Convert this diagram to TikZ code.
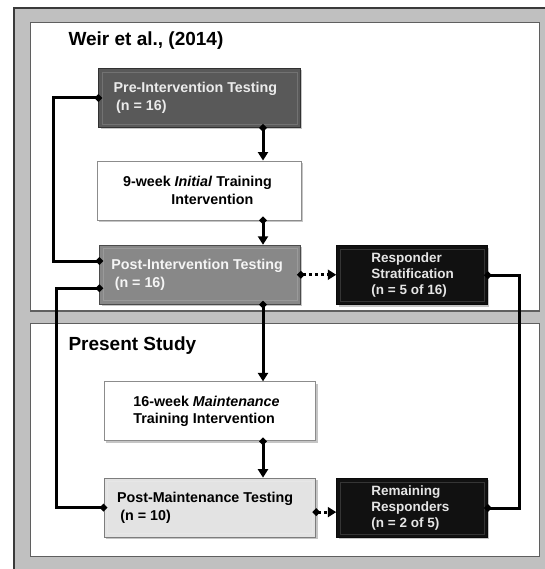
\documentclass[tikz,border=0pt]{standalone}
\usepackage{fontspec}
\setmainfont{Liberation Sans}
\usetikzlibrary{arrows.meta,shadows}
\definecolor{preclr}{HTML}{595959}
\definecolor{postclr}{HTML}{888888}
\definecolor{maintclr}{HTML}{E3E3E3}
\definecolor{respclr}{HTML}{111111}
\definecolor{framegray}{HTML}{C0C0C0}
\definecolor{framedark}{HTML}{3A3A3A}
\definecolor{panelline}{HTML}{5F5F5F}
\begin{document}
\begin{tikzpicture}[x=1pt,y=-1pt,
  box/.style={draw=#1!55!black, line width=0.9pt, fill=#1, minimum height=59pt, inner sep=0pt,
    drop shadow={shadow xshift=1.8pt, shadow yshift=-1.8pt, opacity=0.45},
    path picture={\draw[#1!85!white, line width=0.6pt]
      ([shift={(3.5pt,-3.5pt)}]path picture bounding box.north west) rectangle
      ([shift={(-3.5pt,3.5pt)}]path picture bounding box.south east);}},
  boxtxt/.style={font=\fontsize{14.3}{17.7}\selectfont\bfseries, align=left, inner sep=0pt, anchor=west},
  resptxt/.style={boxtxt, font=\fontsize{13.5}{15.8}\selectfont\bfseries, text=white!90!black},
  titletxt/.style={font=\fontsize{19}{23}\selectfont\bfseries, anchor=base west, inner sep=0pt},
  conn/.style={line width=3pt, {Diamond[length=8pt,width=8pt]}-{Triangle[length=8.5pt,width=10pt]}, shorten <=-4pt},
  loopconn/.style={line width=3pt, {Diamond[length=8pt,width=8pt]}-{Diamond[length=8pt,width=8pt]}, shorten <=-4pt, shorten >=-4pt},
  dotconn/.style={conn, dash pattern=on 3pt off 3pt}]
  \pgfmathsetmacro{\sx}{263}
  \pgfmathsetmacro{\la}{53.8}
  \pgfmathsetmacro{\lb}{56.6}
  \pgfmathsetmacro{\ra}{519.4}
  \useasboundingbox (0,0) rectangle (544,569);
  \fill[white] (0,0) rectangle (544,569);
  \fill[framegray] (13.9,8) rectangle (548,573);
  \draw[framedark, line width=1.2pt] (13.9,573) -- (13.9,8) -- (548,8);
  \draw[panelline, line width=1.4pt, fill=white] (30.5,22.7) rectangle (539.6,311);
  \draw[panelline, line width=1.4pt, fill=white] (30.5,323.3) rectangle (539.6,556.7);

  \node[titletxt] (weir) at (68.3,46) {Weir et al., (2014)};
  \node[titletxt] (present) at (68.3,350.7) {Present Study};

  \node[box=preclr, minimum width=201.6pt] (pre) at (199.7,98) {};
  \node[boxtxt, text=white!92!black] (pretxt) at ([xshift=15pt]pre.west) {Pre-Intervention Testing\\\hspace*{2.5pt}(n = 16)};

  \node[box=white, minimum width=204pt] (nine) at (199.5,190.5) {};
  \node[boxtxt] (ninetxt) at ([xshift=25.8pt]nine.west) {9-week \textit{Initial} Training\\\hspace*{48.4pt}Intervention};

  \node[box=postclr, minimum width=200.6pt] (postint) at (200.2,274.75) {};
  \node[boxtxt, text=white!96!black] (postinttxt) at ([xshift=11.8pt]postint.west) {Post-Intervention Testing\\\hspace*{3.3pt}(n = 16)};

  \node[box=respclr, minimum width=150.8pt] (resp) at (412.1,275.25) {};
  \node[resptxt] (resptxt) at ([xshift=35pt]resp.west) {Responder\\Stratification\\(n = 5 of 16)};

  \node[box=white, minimum width=211.8pt] (sixteen) at (209.9,411.35) {};
  \node[boxtxt] (sixteentxt) at ([xshift=29.6pt]sixteen.west) {16-week \textit{Maintenance}\\Training Intervention};

  \node[box=maintclr, minimum width=211.8pt] (postmaint) at (209.9,507.6) {};
  \node[boxtxt] (postmainttxt) at ([xshift=13.3pt]postmaint.west) {Post-Maintenance Testing\\\hspace*{3.4pt}(n = 10)};

  \node[box=respclr, minimum width=150.8pt] (remain) at (412.1,508) {};
  \node[resptxt] (remaintxt) at ([xshift=35pt]remain.west) {Remaining\\Responders\\(n = 2 of 5)};

  \coordinate (spine) at (\sx,0);
  \coordinate (lloop) at (\la,0);
  \coordinate (lloopb) at (\lb,0);
  \coordinate (rloop) at (\ra,0);
  \coordinate (postup) at ([yshift=13.75pt]postint.west);
  \coordinate (postlo) at ([yshift=-13.5pt]postint.west);

  \draw[conn] (pre.south -| spine) -- (nine.north -| spine);
  \draw[conn] (nine.south -| spine) -- (postint.north -| spine);
  \draw[conn] (postint.south -| spine) -- (sixteen.north -| spine);
  \draw[conn] (sixteen.south -| spine) -- (postmaint.north -| spine);

  \draw[loopconn] (pre.west) -- (pre.west -| lloop) |- (postup);
  \draw[loopconn] (postlo) -- (postlo -| lloopb) |- (postmaint.west);
  \draw[loopconn] (resp.east) -- (resp.east -| rloop) |- (remain.east);

  \draw[dotconn] (postint.east) -- (postint.east -| resp.west);
  \draw[dotconn] ([yshift=-4.5pt]postmaint.east) -- ([yshift=-4.5pt]postmaint.east -| remain.west);
\end{tikzpicture}
\end{document}
